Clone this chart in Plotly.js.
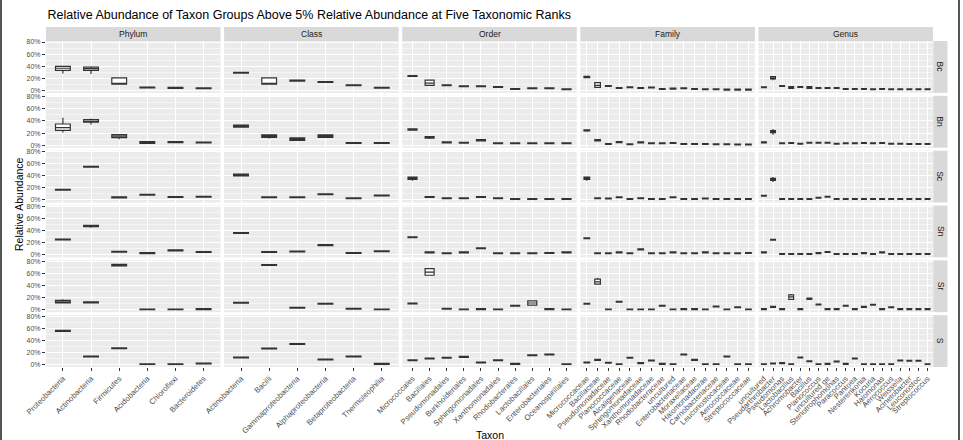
<!DOCTYPE html>
<html><head><meta charset="utf-8">
<script src="https://cdn.plot.ly/plotly-3.0.1.min.js"></script>
<style>
html,body{margin:0;padding:0;background:#fff;}
#chart{width:963px;height:440px;}
.edge{position:absolute;top:0;width:2px;height:440px;background:#555;}
</style>
</head><body>
<div id="chart"></div>
<div class="edge" style="left:0"></div>
<div class="edge" style="left:958px"></div>
<script>
// ---------------- DATA (percent) ----------------
const ranks = ["Phylum", "Class", "Order", "Family", "Genus"];
const samples = ["Bc", "Bn", "Sc", "Sn", "Sr", "S"];

const phylumTaxa = ["Proteobacteria","Actinobacteria","Firmicutes","Acidobacteria","Chloroflexi","Bacteroidetes"];
const classTaxa = ["Actinobacteria","Bacilli","Gammaproteobacteria","Alphaproteobacteria","Betaproteobacteria","Thermoleophilia"];
const orderTaxa = ["Micrococcales","Bacillales","Pseudomonadales","Burkholderiales","Sphingomonadales","Xanthomonadales","Rhodobacterales","Lactobacillales","Enterobacteriales","Oceanospirillales"];
const familyTaxa = ["Micrococcaceae","Bacillaceae","Pseudomonadaceae","Planococcaceae","Alcaligenaceae","Sphingomonadaceae","Xanthomonadaceae","Rhodobacteraceae","uncultured","Enterobacteriaceae","Moraxellaceae","Halomonadaceae","Carnobacteriaceae","Leuconostocaceae","Aerococcaceae","Streptococcaceae"];
const genusTaxa = ["uncultured","Pseudarthrobacter","Pseudomonas","Lactobacillus","Achromobacter","Bacillus","Planococcus","uncultured ge","Stenotrophomonas","Paracoccus","Pantoea","Nesterenkonia","Kocuria","Halomonas","Aerococcus","Weissella","Acinetobacter","Leuconostoc","Streptococcus"];

// medians, rows = samples (Bc, Bn, Sc, Sn, Sr, S)
const phylumMedian = [
  [36.5, 36, 11.5, 4.5, 4, 3.5],
  [29, 40, 15, 4.5, 5, 4.5],
  [17, 55, 4.3, 8.7, 4.8, 5.3],
  [25.5, 47.6, 5, 2.8, 7.3, 4.5],
  [13, 12, 73.8, 0.3, 0.3, 0.8],
  [55.7, 13.2, 27, 0.5, 0.5, 1.6]
];
const classMedian = [
  [29, 11, 16, 13.8, 8.3, 4.3],
  [31.7, 15, 10, 15, 3.5, 3.5],
  [41, 4.5, 4.5, 9.5, 3, 7.5],
  [36, 4.5, 5.5, 16, 3, 6],
  [11.3, 73.8, 3, 9.6, 1.3, 0.3],
  [11.6, 26.5, 34, 8.3, 13.3, 1]
];
const orderMedian = [
  [23.7, 12, 8.3, 6.6, 6.6, 5.5, 2.2, 3.3, 3.3, 1.7],
  [26, 13, 4.6, 4, 8, 3, 3, 3, 3, 3],
  [36, 5, 3, 3, 5, 3, 1.5, 1.5, 1.5, 1.5],
  [29, 4, 2.5, 4, 11, 2.5, 2.5, 2.5, 3, 4],
  [10.2, 62, 1.3, 0.3, 0.8, 0.3, 6.3, 11, 0.8, 0.3],
  [7.1, 10, 11, 12.6, 3.3, 7, 1, 15.4, 16.5, 0.5]
];
const familyMedian = [
  [22, 8, 7.1, 3.8, 5, 3.8, 4.5, 2.2, 2.8, 3.3, 2.2, 1.7, 1.7, 1.1, 1.1, 1.1],
  [24.5, 8, 1.8, 5, 1.5, 4.6, 3, 3, 3.5, 2, 2, 2, 1.5, 1.5, 1, 1],
  [36, 3, 2.5, 4.5, 1.5, 3, 1.5, 1.5, 4.5, 1.5, 1.5, 2.5, 1.5, 1.5, 1.5, 1.5],
  [27.5, 2.5, 2.5, 4, 2.5, 9, 2.5, 2.5, 4, 2.5, 2.5, 4, 2.5, 2.5, 2.5, 3],
  [9.6, 46, 0.3, 13, 0.3, 0.3, 0.3, 6.3, 0.3, 0.8, 0.8, 0.3, 5.3, 0.3, 4.1, 0.3],
  [3.3, 7.6, 2.7, 0.3, 11, 2.2, 6.6, 1, 0.3, 16.5, 7.6, 0.3, 0.3, 13.3, 0.3, 0.3]
];
const genusMedian = [
  [5, 20, 7.1, 4.5, 5.5, 4.5, 3.8, 3.8, 3.8, 2.2, 2.2, 2.2, 1.8, 2.2, 1.8, 1.8, 1.8, 1.8, 1.7],
  [4.6, 22, 3, 3.5, 2.4, 4, 4, 4, 2.4, 3, 3, 3.5, 3, 3.5, 2.4, 2.4, 1.8, 1.8, 1.8],
  [7, 34, 1.5, 1.5, 1.5, 1.5, 3.6, 5.3, 1.5, 1.5, 1.5, 1.5, 1.5, 1.5, 1.5, 1.5, 1.5, 1.5, 1.5],
  [4, 24.9, 1.2, 1.2, 1.2, 1.2, 2.8, 4.5, 1.2, 1.2, 1.2, 2.8, 1.2, 4, 1.2, 1.2, 1.2, 1.2, 1.2],
  [0.8, 4.6, 0.8, 21, 0.8, 18, 8.6, 0.8, 0.8, 6.3, 0.8, 4.6, 8, 0.8, 4.1, 0.8, 0.8, 0.8, 0.8],
  [0.5, 1.6, 2.2, 0.5, 11.6, 5.5, 0.5, 1, 5, 1, 10, 0.5, 0.5, 0.5, 0.5, 6.6, 6.1, 6.1, 0.5]
];

// half-IQR of the collapsed (dash-like) boxes
const flatHalfIQR = 0.7;

// boxes with visible spread: [rank, sample, taxon, lowerWhisker, q1, q3, upperWhisker]
const boxDetail = [
  ["Phylum","Bc","Proteobacteria", 28, 33, 39.5, 40],
  ["Phylum","Bc","Actinobacteria", 27, 33, 38.5, 40],
  ["Phylum","Bc","Firmicutes", 10, 10, 20.5, 20.5],
  ["Phylum","Bn","Proteobacteria", 21, 24.5, 35, 45.5],
  ["Phylum","Bn","Actinobacteria", 34, 38, 42.5, 44],
  ["Phylum","Bn","Firmicutes", 9.6, 12.3, 17.5, 18],
  ["Phylum","Bn","Acidobacteria", 3, 3, 6, 6],
  ["Phylum","Sn","Actinobacteria", 45, 46.5, 49, 50],
  ["Phylum","Sr","Proteobacteria", 11, 11, 15.2, 17.4],
  ["Phylum","Sr","Firmicutes", 72.5, 72.5, 75, 75],
  ["Class","Bc","Bacilli", 10, 10, 20.5, 20.5],
  ["Class","Bc","Gammaproteobacteria", 14, 15, 17, 18],
  ["Class","Bn","Actinobacteria", 29, 30, 33, 34],
  ["Class","Bn","Bacilli", 11, 13, 17, 17.5],
  ["Class","Bn","Gammaproteobacteria", 8, 8, 12, 12],
  ["Class","Bn","Alphaproteobacteria", 13, 13, 17, 17],
  ["Class","Sc","Actinobacteria", 39, 40, 43, 44],
  ["Order","Bc","Bacillales", 8.3, 8.3, 17, 17],
  ["Order","Bn","Micrococcales", 24, 25, 27, 28],
  ["Order","Bn","Bacillales", 10, 11.5, 14, 14],
  ["Order","Bn","Sphingomonadales", 7, 7, 9, 10],
  ["Order","Sc","Micrococcales", 32, 34, 38, 39],
  ["Order","Sr","Bacillales", 57, 57, 68, 68],
  ["Order","Sr","Lactobacillales", 7.5, 7.5, 14.6, 14.6],
  ["Family","Bc","Micrococcaceae", 20, 21, 23, 23],
  ["Family","Bc","Bacillaceae", 5, 5, 12.6, 12.6],
  ["Family","Bn","Micrococcaceae", 22, 23.5, 25.5, 26],
  ["Family","Bn","Bacillaceae", 6.5, 7, 9, 9],
  ["Family","Sc","Micrococcaceae", 32, 34, 38, 39],
  ["Family","Sr","Bacillaceae", 42.3, 42.3, 50.6, 53],
  ["Genus","Bc","Pseudarthrobacter", 16.5, 18.7, 22.5, 22.5],
  ["Genus","Bc","Lactobacillus", 3.3, 3.3, 6, 6],
  ["Genus","Bc","Bacillus", 3.3, 3.3, 6, 6],
  ["Genus","Bn","Pseudarthrobacter", 17, 20.5, 24, 26.7],
  ["Genus","Sc","Pseudarthrobacter", 29.7, 32.5, 35.8, 38],
  ["Genus","Sr","Lactobacillus", 15.8, 16.9, 24.5, 25.7],
  ["Genus","Sr","Bacillus", 17, 17, 19, 19]
];

// ---------------- LAYOUT GEOMETRY ----------------
const W = 963, H = 440;
const M = {l: 46, r: 30, t: 41, b: 73};
const PW = W - M.l - M.r, PH = H - M.t - M.b;
const colGap = 3.6, rowGap = 3;
const colW = (PW - 4 * colGap) / 5;
const rowH = (PH - 5 * rowGap) / 6;
const FONT = "Liberation Sans, Arial, Helvetica, sans-serif";

const rankTaxa = [phylumTaxa, classTaxa, orderTaxa, familyTaxa, genusTaxa];
const rankMedian = [phylumMedian, classMedian, orderMedian, familyMedian, genusMedian];

function xDom(c) { const a = c * (colW + colGap); return [a / PW, (a + colW) / PW]; }
function yDom(r) { const top = r * (rowH + rowGap); return [1 - (top + rowH) / PH, 1 - top / PH]; }

const traces = [];
for (let c = 0; c < 5; c++) {
  for (let r = 0; r < 6; r++) {
    const taxa = rankTaxa[c];
    const med = rankMedian[c][r];
    const q1 = med.map(m => Math.max(m - flatHalfIQR, 0));
    const q3 = med.map(m => m + flatHalfIQR);
    const lo = q1.slice(), hi = q3.slice();
    boxDetail.filter(d => d[0] === ranks[c] && d[1] === samples[r]).forEach(d => {
      const i = taxa.indexOf(d[2]);
      if (i >= 0) { lo[i] = d[3]; q1[i] = d[4]; q3[i] = d[5]; hi[i] = d[6]; }
    });
    const p = v => v / 100;
    traces.push({
      type: 'box',
      x: taxa,
      q1: q1.map(p), median: med.map(p), q3: q3.map(p),
      lowerfence: lo.map(p), upperfence: hi.map(p),
      xaxis: c ? 'x' + (c + 1) : 'x',
      yaxis: r ? 'y' + (r + 1) : 'y',
      fillcolor: '#FFFFFF',
      line: {color: '#333333', width: 1.2},
      whiskerwidth: 0,
      boxpoints: false,
      hoverinfo: 'skip',
      showlegend: false
    });
  }
}

const layout = {
  width: W, height: H,
  margin: M,
  paper_bgcolor: '#FFFFFF',
  plot_bgcolor: '#EBEBEB',
  boxgap: 0.25,
  font: {family: FONT},
  title: {
    text: 'Relative Abundance of Taxon Groups Above 5% Relative Abundance at Five Taxonomic Ranks',
    x: 47.5 / W, xref: 'container', xanchor: 'left',
    y: 1 - 14.5 / H, yref: 'container', yanchor: 'middle',
    font: {size: 12.5, color: '#000000', family: FONT}
  },
  shapes: [],
  annotations: []
};

for (let c = 0; c < 5; c++) {
  const key = c ? 'xaxis' + (c + 1) : 'xaxis';
  const n = rankTaxa[c].length;
  layout[key] = {
    domain: xDom(c), anchor: 'y6', type: 'category',
    categoryorder: 'array', categoryarray: rankTaxa[c],
    range: [-0.6, n - 0.4],
    showgrid: true, gridcolor: '#FFFFFF', gridwidth: 1,
    zeroline: false, showline: false,
    ticks: 'outside', ticklen: 3, tickwidth: 1, tickcolor: '#333333',
    tickangle: -45, tickfont: {size: 7.8, color: '#4D4D4D', family: FONT},
    fixedrange: true
  };
  const d = xDom(c);
  layout.shapes.push({type: 'rect', xref: 'paper', yref: 'paper', x0: d[0], x1: d[1],
    y0: 1, y1: 1 + 14 / PH, fillcolor: '#D9D9D9', line: {width: 0}, layer: 'below'});
  layout.annotations.push({xref: 'paper', yref: 'paper', x: (d[0] + d[1]) / 2, y: 1 + 7 / PH,
    text: ranks[c], showarrow: false, xanchor: 'center', yanchor: 'middle',
    font: {size: 8.5, color: '#1A1A1A', family: FONT}});
}
for (let r = 0; r < 6; r++) {
  const key = r ? 'yaxis' + (r + 1) : 'yaxis';
  layout[key] = {
    domain: yDom(r), anchor: 'x',
    range: [-0.042, 0.817],
    tick0: 0, dtick: 0.2, tickformat: '.0%',
    showgrid: true, gridcolor: '#FFFFFF', gridwidth: 1,
    minor: {tick0: 0, dtick: 0.1, showgrid: true, gridcolor: '#FFFFFF', gridwidth: 0.5},
    zeroline: false, showline: false,
    ticks: 'outside', ticklen: 3, tickwidth: 1, tickcolor: '#333333',
    tickfont: {size: 7, color: '#4D4D4D', family: FONT},
    fixedrange: true
  };
  const d = yDom(r);
  layout.shapes.push({type: 'rect', xref: 'paper', yref: 'paper', x0: 1 + 0.3 / PW, x1: 1 + 14.5 / PW,
    y0: d[0], y1: d[1], fillcolor: '#D9D9D9', line: {width: 0}, layer: 'below'});
  layout.annotations.push({xref: 'paper', yref: 'paper', x: 1 + 7.4 / PW, y: (d[0] + d[1]) / 2,
    text: samples[r], showarrow: false, textangle: 90, xanchor: 'center', yanchor: 'middle',
    font: {size: 8.5, color: '#1A1A1A', family: FONT}});
}

layout.annotations.push({xref: 'paper', yref: 'paper', x: 0.5, y: -(435 - (H - M.b)) / PH,
  text: 'Taxon', showarrow: false, xanchor: 'center', yanchor: 'middle',
  font: {size: 10.5, color: '#000000', family: FONT}});
layout.annotations.push({xref: 'paper', yref: 'paper', x: (19 - M.l) / PW, y: 1 - (204 - M.t) / PH,
  text: 'Relative Abundance', showarrow: false, textangle: -90, xanchor: 'center', yanchor: 'middle',
  font: {size: 10.5, color: '#000000', family: FONT}});

Plotly.newPlot('chart', traces, layout, {displayModeBar: false, staticPlot: true});
</script>
</body></html>
